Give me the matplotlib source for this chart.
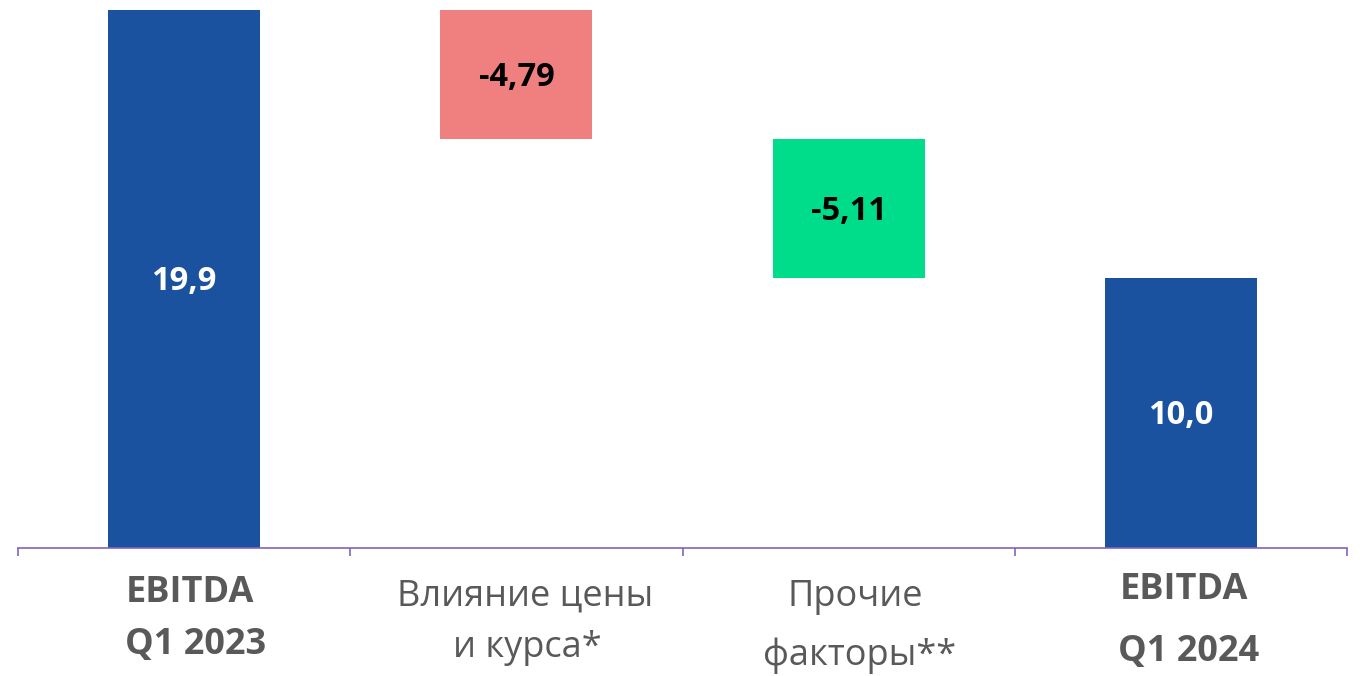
import matplotlib
matplotlib.use('Agg')
import matplotlib.pyplot as plt
from matplotlib.transforms import blended_transform_factory, offset_copy

plt.rcParams['font.family'] = ['Open Sans', 'DejaVu Sans']

# waterfall data
categories = ['EBITDA\nQ1 2023', 'Влияние цены\nи курса*', 'Прочие\nфакторы**', 'EBITDA\nQ1 2024']
values = [19.9, -4.79, -5.11, 10.0]
labels = ['19,9', '-4,79', '-5,11', '10,0']
is_total = [True, False, False, True]

blue = '#1A52A0'
red = '#F08080'
green = '#00DD8A'
gray = '#595959'
axis_col = '#8064BE'

fig = plt.figure(figsize=(13.6, 6.76), dpi=100)
ax = fig.add_axes([18 / 1360, 1 - 548 / 676, (1347 - 18) / 1360, 548 / 676])

running = 0.0
for i, v in enumerate(values):
    if is_total[i]:
        bottom, height, col, tcol = 0, v, blue, 'white'
        running = v
    else:
        bottom, height = running + v, -v
        running = running + v
        col = red if i == 1 else green
        tcol = 'black'
    ax.bar(i, height, bottom=bottom, width=0.458, color=col, zorder=2)
    ax.text(i, bottom + height / 2 - 0.1, labels[i], ha='center', va='center',
            color=tcol, fontsize=23.5, fontweight='bold')

ax.set_xlim(-0.5, 3.5)
ax.set_ylim(0, 19.9 + 10 / 27.04)

for s in ['top', 'right', 'left']:
    ax.spines[s].set_visible(False)
ax.spines['bottom'].set_color(axis_col)
ax.spines['bottom'].set_linewidth(1.2)
ax.set_yticks([])
ax.set_xticks([-0.5, 0.5, 1.5, 2.5, 3.5])
ax.set_xticklabels([])
ax.tick_params(axis='x', direction='out', length=6, width=1.2, color=axis_col)

tr = blended_transform_factory(ax.transData, fig.transFigure)
# category labels, two lines each: (y1, y2) and x shifts in pixels
line_pos = [(593, 645), (597, 648), (597, 656), (590, 652)]
x_shift = [(6, 11), (9, 11), (7, 11), (3, 8)]
for i, cat in enumerate(categories):
    l1, l2 = cat.split('\n')
    bold = 'bold' if is_total[i] else 'normal'
    y1, y2 = line_pos[i]
    dx1, dx2 = x_shift[i]
    ax.text(i, 1 - y1 / 676, l1, ha='center', va='center',
            transform=offset_copy(tr, fig=fig, x=dx1 * 0.72, units='points'),
            color=gray, fontsize=26, fontweight=bold)
    ax.text(i, 1 - y2 / 676, l2, ha='center', va='center',
            transform=offset_copy(tr, fig=fig, x=dx2 * 0.72, units='points'),
            color=gray, fontsize=26, fontweight=bold)

fig.savefig('out.png', dpi=100)
